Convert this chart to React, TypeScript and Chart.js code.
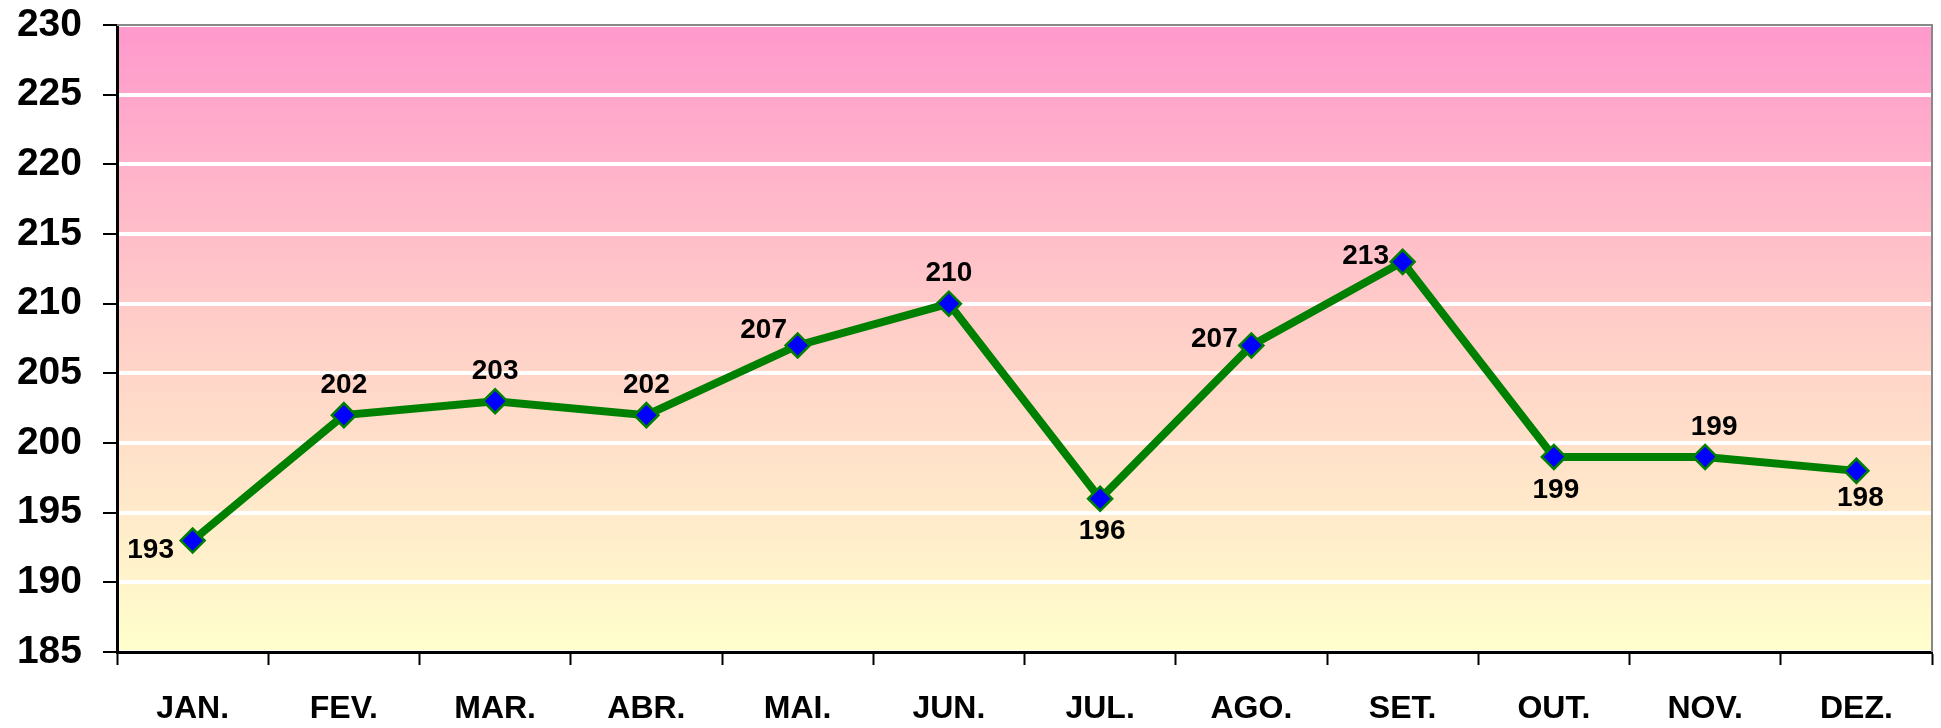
import React, { useEffect, useRef } from 'react';
import { Chart, registerables } from 'chart.js';

Chart.register(...registerables);

const months = ['JAN.', 'FEV.', 'MAR.', 'ABR.', 'MAI.', 'JUN.', 'JUL.', 'AGO.', 'SET.', 'OUT.', 'NOV.', 'DEZ.'];
const values = [193, 202, 203, 202, 207, 210, 196, 207, 213, 199, 199, 198];
const labelPlacement = ['leftDown', 'above', 'above', 'above', 'leftUp', 'above', 'below', 'left', 'left', 'below', 'aboveRight', 'belowNear'];
const yMin = 185;
const yMax = 230;
const yStep = 5;

const FONT = '"Liberation Sans", Arial, sans-serif';

const offsets: Record<string, [number, number]> = {
  above: [0, -30],
  aboveRight: [9, -30],
  below: [2, 33],
  belowNear: [4, 27],
  left: [-37, -6],
  leftUp: [-34, -15],
  leftDown: [-42, 10],
};

const bgPlugin = {
  id: 'bgPlugin',
  beforeDraw(chart: any) {
    const { ctx, chartArea } = chart;
    const { left, top, right, bottom } = chartArea;
    const g = ctx.createLinearGradient(0, top, 0, bottom);
    g.addColorStop(0, '#FF99CC');
    g.addColorStop(0.5, '#FFD0C8');
    g.addColorStop(1, '#FFFFCC');
    ctx.save();
    ctx.fillStyle = g;
    ctx.fillRect(left, top, right - left, bottom - top);
    ctx.restore();
  },
  beforeDatasetsDraw(chart: any) {
    const { ctx, chartArea } = chart;
    const { left, top, right, bottom } = chartArea;
    ctx.save();
    ctx.strokeStyle = '#888888';
    ctx.lineWidth = 2;
    ctx.beginPath();
    ctx.moveTo(left, top);
    ctx.lineTo(right, top);
    ctx.lineTo(right, bottom);
    ctx.stroke();
    ctx.restore();
  },
};

const labelPlugin = {
  id: 'labelPlugin',
  afterDatasetsDraw(chart: any) {
    const { ctx } = chart;
    const meta = chart.getDatasetMeta(0);
    ctx.save();
    ctx.font = `bold 28px ${FONT}`;
    ctx.fillStyle = '#000000';
    ctx.textAlign = 'center';
    ctx.textBaseline = 'middle';
    meta.data.forEach((pt: any, i: number) => {
      const [dx, dy] = offsets[labelPlacement[i]] || [0, -30];
      ctx.fillText(String(values[i]), pt.x + dx, pt.y + dy);
    });
    ctx.restore();
  },
};

export default function App() {
  const ref = useRef<HTMLCanvasElement>(null);
  useEffect(() => {
    document.body.style.margin = '0';
    const chart = new Chart(ref.current!, {
      type: 'line',
      data: {
        labels: months,
        datasets: [
          {
            data: values,
            borderColor: '#008000',
            borderWidth: 8,
            pointStyle: 'rectRot',
            pointRadius: 12,
            pointBackgroundColor: '#0000FF',
            pointBorderColor: '#008000',
            pointBorderWidth: 2.5,
            tension: 0,
            clip: false as any,
          },
        ],
      },
      options: {
        animation: false,
        responsive: false,
        layout: { autoPadding: false, padding: { top: 25, right: 9, left: 0, bottom: 0 } },
        plugins: { legend: { display: false }, tooltip: { enabled: false } },
        scales: {
          x: {
            offset: true,
            grid: {
              offset: true,
              drawOnChartArea: false,
              tickLength: 13,
              tickColor: '#000000',
              tickWidth: 2,
            },
            border: { color: '#000000', width: 3 },
            ticks: {
              color: '#000000',
              font: { family: FONT, size: 32, weight: 'bold' },
              padding: 25,
              maxRotation: 0,
            },
            afterFit(scale: any) {
              scale.height = 76;
              scale.paddingLeft = 0;
              scale.paddingRight = 0;
            },
          },
          y: {
            min: yMin,
            max: yMax,
            grid: {
              color: '#FFFFFF',
              lineWidth: 4,
              tickLength: 14,
              tickColor: '#000000',
              tickWidth: 2,
            },
            border: { color: '#000000', width: 3 },
            ticks: {
              stepSize: yStep,
              color: '#000000',
              font: { family: FONT, size: 39, weight: 'bold' },
              padding: 21,
            },
            afterFit(scale: any) {
              scale.width = 117;
              scale.paddingTop = 0;
              scale.paddingBottom = 0;
            },
          },
        },
      },
      plugins: [bgPlugin, labelPlugin],
    });
    return () => chart.destroy();
  }, []);
  return (
    <div style={{ position: 'fixed', left: 0, top: 0, width: 1941, height: 728 }}>
      <canvas ref={ref} width={1941} height={728} style={{ width: 1941, height: 728 }} />
    </div>
  );
}
